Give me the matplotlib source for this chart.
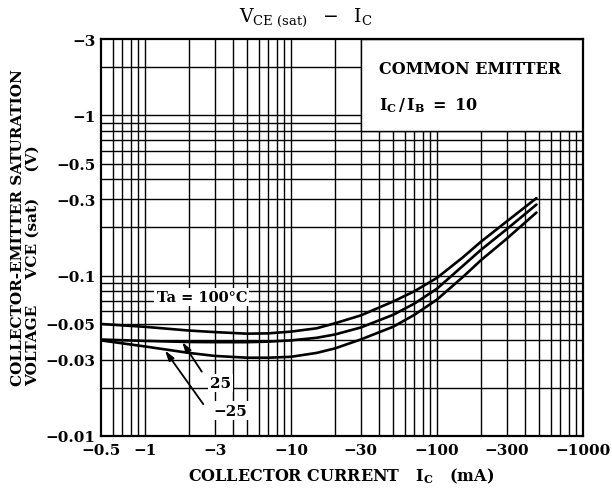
import matplotlib
matplotlib.use("Agg")
import matplotlib.pyplot as plt
from matplotlib.patches import Rectangle
from matplotlib.ticker import FixedLocator, NullFormatter, FixedFormatter

plt.rcParams["font.family"] = ["DejaVu Serif"]
plt.rcParams["mathtext.fontset"] = "custom"
plt.rcParams["mathtext.rm"] = "DejaVu Serif"
plt.rcParams["mathtext.bf"] = "DejaVu Serif:bold"
plt.rcParams["mathtext.it"] = "DejaVu Serif:italic"

# Collector current magnitude (mA) and saturation voltage magnitude (V)
ic_ma = [0.5, 1, 2, 3, 5, 7, 10, 15, 20, 30, 50, 70, 100, 150, 200, 300, 480]
vce_100c = [0.050, 0.048, 0.0455, 0.0445, 0.0435, 0.0437, 0.0448, 0.047, 0.0505,
            0.0565, 0.069, 0.080, 0.097, 0.130, 0.163, 0.218, 0.305]
vce_25c = [0.0400, 0.0392, 0.0386, 0.0385, 0.0385, 0.0388, 0.0395, 0.041, 0.043,
           0.0475, 0.057, 0.067, 0.083, 0.115, 0.145, 0.195, 0.278]
vce_m25c = [0.0395, 0.0362, 0.0330, 0.0316, 0.0308, 0.0308, 0.0312, 0.033, 0.0352,
            0.040, 0.048, 0.057, 0.071, 0.098, 0.125, 0.170, 0.248]

x_ticks = [0.5, 1, 3, 10, 30, 100, 300, 1000]
x_tick_labels = ["−0.5", "−1", "−3", "−10", "−30", "−100", "−300", "−1000"]
y_ticks = [0.01, 0.03, 0.05, 0.1, 0.3, 0.5, 1, 3]
y_tick_labels = ["−0.01", "−0.03", "−0.05", "−0.1", "−0.3", "−0.5", "−1", "−3"]

fig = plt.figure(figsize=(6.12, 5.02), dpi=100)
ax = fig.add_axes([101 / 612, 1 - 437 / 502, 482 / 612, 397 / 502])
ax.set_xscale("log")
ax.set_yscale("log")
ax.set_xlim(0.5, 1000)
ax.set_ylim(0.01, 3)

# full 1-2-...-9 log grid
xgrid = [m * 10 ** e for e in range(-1, 3) for m in range(1, 10)]
xgrid = [v for v in xgrid if 0.5 < v < 1000]
ygrid = [m * 10 ** e for e in range(-2, 1) for m in range(1, 10)]
ygrid = [v for v in ygrid if 0.01 < v < 3]
ax.set_axisbelow(True)
for v in xgrid:
    ax.axvline(v, color="black", lw=1.0, zorder=0.5)
for v in ygrid:
    ax.axhline(v, color="black", lw=1.0, zorder=0.5)

ax.xaxis.set_major_locator(FixedLocator(x_ticks))
ax.xaxis.set_major_formatter(FixedFormatter(x_tick_labels))
ax.xaxis.set_minor_formatter(NullFormatter())
ax.yaxis.set_major_locator(FixedLocator(y_ticks))
ax.yaxis.set_major_formatter(FixedFormatter(y_tick_labels))
ax.yaxis.set_minor_formatter(NullFormatter())
ax.tick_params(which="both", length=0)
ax.tick_params(axis="x", pad=5)
ax.tick_params(axis="y", pad=4)
for lbl in ax.get_xticklabels() + ax.get_yticklabels():
    lbl.set_fontsize(11)
    lbl.set_fontweight("bold")
for s in ax.spines.values():
    s.set_linewidth(1.6)

# condition box
ax.add_patch(Rectangle((30, 0.8), 1000 - 30, 3 - 0.8, facecolor="white",
                       edgecolor="black", lw=1.0, zorder=1))
ax.text(40, 1.95, "COMMON EMITTER", fontsize=11.5, fontweight="bold",
        va="center", ha="left", zorder=4)
ax.text(40, 1.17, r"$\mathbf{I}_{\mathbf{C}}\,\mathbf{/\,I}_{\mathbf{B}}\ \mathbf{=\ 10}$",
        fontsize=11.5, va="center", ha="left", zorder=4)

for v in (vce_100c, vce_25c, vce_m25c):
    ax.plot(ic_ma, v, color="black", lw=1.9, solid_capstyle="round", zorder=3)

box = dict(facecolor="white", edgecolor="none", pad=1.5)
ax.text(2.45, 0.074, "Ta = 100°C", fontsize=10.5, fontweight="bold",
        ha="center", va="center", bbox=box, zorder=4)

arrow = dict(arrowstyle="-|>,head_length=0.6,head_width=0.18", color="black",
             lw=1.3, shrinkA=0, shrinkB=0)
ax.annotate("", xy=(1.80, 0.0386), xytext=(2.45, 0.0252), arrowprops=arrow, zorder=4)
ax.annotate("", xy=(1.37, 0.0342), xytext=(2.51, 0.0158), arrowprops=arrow, zorder=4)
ax.text(3.30, 0.0214, "25", fontsize=11, fontweight="bold",
        ha="center", va="center", bbox=box, zorder=4)
ax.text(3.85, 0.0144, "−25", fontsize=11, fontweight="bold",
        ha="center", va="center", bbox=box, zorder=4)

fig.text(0.5, 1 - 18 / 502,
         r"$\mathrm{V}_{\mathrm{CE\ (sat)}}\ \ -\ \ \mathrm{I}_{\mathrm{C}}$",
         fontsize=13.5, ha="center", va="center")

fig.text(341 / 612, 1 - 476 / 502,
         r"COLLECTOR CURRENT   $\mathbf{I}_{\mathbf{C}}$   (mA)",
         fontsize=11.5, fontweight="bold", ha="center", va="center")

fig.text(11 / 612, 1 - 386 / 502,
         "COLLECTOR-EMITTER SATURATION\n"
         "VOLTAGE     VCE (sat)     (V)",
         fontsize=11, fontweight="bold", rotation=90, ha="left", va="bottom",
         multialignment="left", linespacing=1.05)

fig.savefig("out.png", dpi=100, facecolor="white")
